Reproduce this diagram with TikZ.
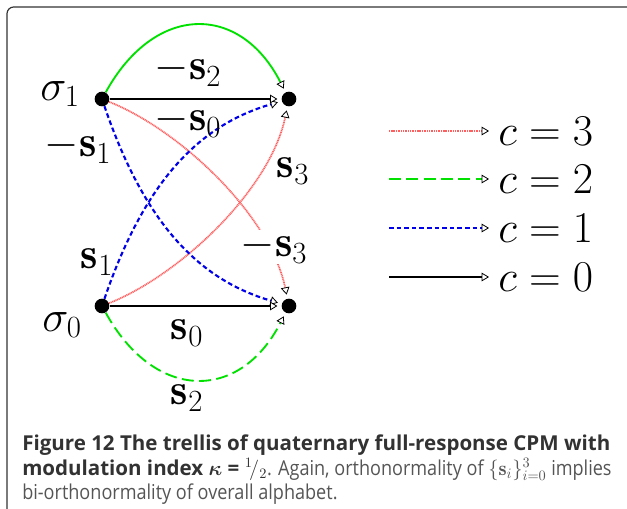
\RequirePackage{fix-cm}
\documentclass[tikz,border=0pt]{standalone}
\usepackage{amsmath}
\usepackage{fontspec}
\newfontfamily\capfont{Open Sans}
\newfontfamily\capreg[FakeStretch=0.88]{Open Sans}
\usetikzlibrary{arrows.meta}

\definecolor{trgreen}{RGB}{0,225,0}
\definecolor{trblue}{RGB}{0,0,235}
\definecolor{trred}{RGB}{255,95,95}
\definecolor{capgray}{RGB}{50,50,50}
\definecolor{reggray}{RGB}{85,85,85}

\tikzset{
  dotnode/.style={circle, fill=black, inner sep=0pt, minimum size=11pt},
  lab/.style={font=\fontsize{33}{36}\selectfont, inner sep=1pt},
  legtext/.style={font=\fontsize{33}{36}\selectfont, anchor=west, inner sep=0pt, outer sep=7pt},
  tip/.style={-{Triangle[length=5.5pt, width=6.5pt, color=black, fill=white, line width=0.6pt]}},
  c3line/.style={trred, line width=1.3pt, dash pattern=on 0.8pt off 0.5pt},
  c2line/.style={trgreen, line width=1.4pt},
  c2dash/.style={c2line, dash pattern=on 9pt off 4pt},
  c1line/.style={trblue, line width=1.6pt, dash pattern=on 3.5pt off 2.2pt},
  c0line/.style={black, line width=1.6pt},
  captxt/.style={font=\capfont\fontsize{15.4}{18}\selectfont, inner sep=0pt, anchor=base west, text=capgray}
}

\begin{document}
\begin{tikzpicture}[x=0.75pt, y=-0.75pt]

% picture area and frame
\clip (0,0) rectangle (627,509);
\draw[black!80, line width=0.9pt, rounded corners=5pt] (7,512) -- (7,7) -- (633,7) -- (633,40);

% --- trellis states ---
\node[dotnode] (a1) at (102,99) {};
\node[dotnode] (b1) at (289,99) {};
\node[dotnode] (a0) at (102,306) {};
\node[dotnode] (b0) at (289,306) {};

% --- branches (c = 3 first, the label -s3 covers it) ---
\draw[c3line, tip, shorten >=3pt] (a1) .. controls (180,130) and (270,215) .. (b0);
\draw[c3line, tip, shorten >=3pt] (a0) .. controls (180,275) and (270,190) .. (b1);
\draw[c2line, tip, shorten >=3pt] (a1) .. controls (155,3) and (240,3) .. (b1);
\draw[c2dash, tip, shorten >=3pt] (a0) .. controls (155,402) and (240,402) .. (b0);
\draw[c1line, tip, shorten >=3pt] (a1) .. controls (145,225) and (200,280) .. (b0);
\draw[c1line, tip, shorten >=3pt] (a0) .. controls (145,180) and (200,125) .. (b1);
\draw[c0line, tip, shorten >=3pt] (a1) -- (b1);
\draw[c0line, tip, shorten >=3pt] (a0) -- (b0);

% --- branch and state labels ---
\node[lab] (sg1) at (60,94) {$\sigma_1$};
\node[lab] (sg0) at (62,325) {$\sigma_0$};
\node[lab] (lm2) at (188,70) {$-\mathbf{s}_2$};
\node[lab] (lm0) at (188,121) {$-\mathbf{s}_0$};
\node[lab] (lm1) at (78,147) {$-\mathbf{s}_1$};
\node[lab] (lp3) at (293,171) {$\mathbf{s}_3$};
\node[lab] (lp1) at (97,262) {$\mathbf{s}_1$};
\node[lab, fill=white] (lm3) at (274,247) {$-\mathbf{s}_3$};
\node[lab] (lp0) at (187,333) {$\mathbf{s}_0$};
\node[lab] (lp2) at (187,398) {$\mathbf{s}_2$};

% --- legend ---
\coordinate (k3) at (389,131);
\coordinate (k2) at (389,179);
\coordinate (k1) at (389,228);
\coordinate (k0) at (389,277);
\node[legtext] (t3) at (489,131) {$c=3$};
\node[legtext] (t2) at (489,179) {$c=2$};
\node[legtext] (t1) at (489,228) {$c=1$};
\node[legtext] (t0) at (489,277) {$c=0$};
\draw[c3line, tip] (k3) -- (t3);
\draw[c2dash, tip] (k2) -- (t2);
\draw[c1line, tip] (k1) -- (t1);
\draw[c0line, tip] (k0) -- (t0);

% --- caption ---
\node[captxt] (cap1) at (22,450) {\bfseries Figure 12 The trellis of quaternary full-response CPM with};
\node[captxt] (cap2) at (22,475) {\bfseries modulation index $\boldsymbol{\kappa}$ = $^{1}\!/_{2}$\capreg\mdseries\color{reggray}. Again, orthonormality of $\{\mathbf{s}_i\}_{i=0}^{3}$ implies};
\node[captxt, font=\capreg\fontsize{15.4}{18}\selectfont, text=reggray] (cap3) at (22,499) {bi-orthonormality of overall alphabet.};

\end{tikzpicture}
\end{document}
